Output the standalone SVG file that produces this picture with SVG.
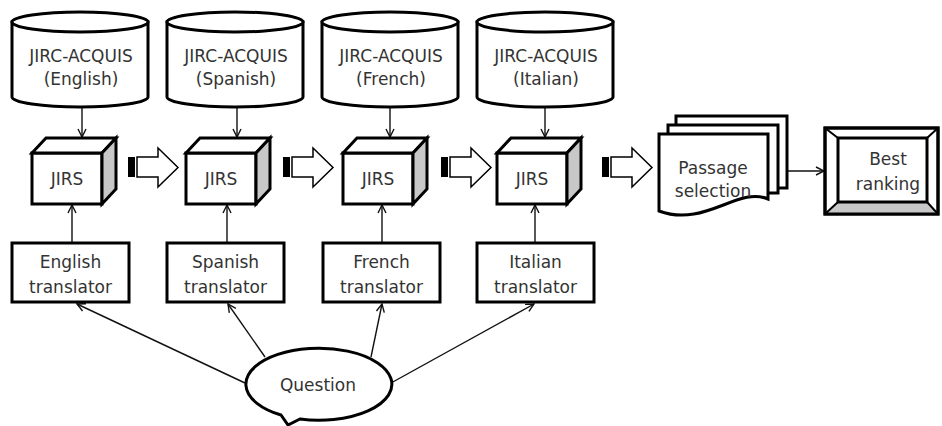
<svg xmlns="http://www.w3.org/2000/svg" width="942" height="426" viewBox="0 0 942 426">
<defs>
<marker id="v" viewBox="0 0 10 10" refX="9" refY="5" markerWidth="10" markerHeight="10" markerUnits="userSpaceOnUse" orient="auto"><path d="M1,1 L9,5 L1,9" fill="none" stroke="#111" stroke-width="1.4"/></marker>
<g id="cyl"><path class="s" d="M12,22 V97 A68,10 0 0 0 148,97 V22 Z"/><ellipse class="s" cx="80" cy="22" rx="68" ry="10"/></g>
<g id="cube"><rect class="s" x="32" y="153" width="70" height="51"/><polygon class="s" points="32,153 46,138 116,138 102,153"/><polygon class="g" points="102,153 116,138 116,189 102,204"/></g>
<g id="barrow"><rect x="128" y="157" width="7" height="20" fill="#000"/><polygon class="ba" points="137,157 158,157 158,148 178,167.5 158,187 158,177 137,177"/></g>
</defs>
<style>
.s{fill:#fff;stroke:#000;stroke-width:3}
.g{fill:#c8c8c8;stroke:#000;stroke-width:3;stroke-linejoin:miter}
.t{font-family:"DejaVu Sans",sans-serif;font-size:17px;fill:#333;text-anchor:middle}
.c{fill:none;stroke:#111;stroke-width:1.4;marker-end:url(#v)}
.ba{fill:#fff;stroke:#000;stroke-width:1.5}
</style>
<rect width="942" height="426" fill="#fff"/>

<g id="connectors">
<line class="c" x1="82" y1="107" x2="82" y2="137"/>
<line class="c" x1="237" y1="107" x2="237" y2="137"/>
<line class="c" x1="390" y1="107" x2="390" y2="137"/>
<line class="c" x1="545" y1="107" x2="545" y2="137"/>
<line class="c" x1="72" y1="243" x2="72" y2="205"/>
<line class="c" x1="227" y1="243" x2="227" y2="205"/>
<line class="c" x1="382" y1="243" x2="382" y2="205"/>
<line class="c" x1="535" y1="243" x2="535" y2="205"/>
<line class="c" x1="245" y1="383" x2="77" y2="304"/>
<line class="c" x1="265" y1="357" x2="228" y2="304"/>
<line class="c" x1="371" y1="357" x2="382" y2="304"/>
<line class="c" x1="391" y1="383" x2="534" y2="304"/>
<line class="c" x1="787" y1="171" x2="824" y2="171"/>
<use href="#barrow"/>
<use href="#barrow" x="155"/>
<use href="#barrow" x="313"/>
<use href="#barrow" x="474"/>
</g>

<g id="corpus-en"><use href="#cyl"/><text class="t" x="81" y="62">JIRC-ACQUIS</text><text class="t" x="81" y="85">(English)</text></g>
<g id="corpus-es" transform="translate(155,0)"><use href="#cyl"/><text class="t" x="81" y="62">JIRC-ACQUIS</text><text class="t" x="81" y="85">(Spanish)</text></g>
<g id="corpus-fr" transform="translate(310,0)"><use href="#cyl"/><text class="t" x="81" y="62">JIRC-ACQUIS</text><text class="t" x="81" y="85">(French)</text></g>
<g id="corpus-it" transform="translate(465,0)"><use href="#cyl"/><text class="t" x="81" y="62">JIRC-ACQUIS</text><text class="t" x="81" y="85">(Italian)</text></g>

<g id="jirs-en"><use href="#cube"/><text class="t" x="67" y="185">JIRS</text></g>
<g id="jirs-es" transform="translate(154,0)"><use href="#cube"/><text class="t" x="67" y="185">JIRS</text></g>
<g id="jirs-fr" transform="translate(311,0)"><use href="#cube"/><text class="t" x="67" y="185">JIRS</text></g>
<g id="jirs-it" transform="translate(465,0)"><use href="#cube"/><text class="t" x="67" y="185">JIRS</text></g>

<g id="tr-en"><rect class="s" x="12" y="243" width="117" height="59"/><text class="t" x="70.5" y="268">English</text><text class="t" x="70.5" y="293">translator</text></g>
<g id="tr-es" transform="translate(155,0)"><rect class="s" x="12" y="243" width="117" height="59"/><text class="t" x="70.5" y="268">Spanish</text><text class="t" x="70.5" y="293">translator</text></g>
<g id="tr-fr" transform="translate(311,0)"><rect class="s" x="12" y="243" width="117" height="59"/><text class="t" x="70.5" y="268">French</text><text class="t" x="70.5" y="293">translator</text></g>
<g id="tr-it" transform="translate(465,0)"><rect class="s" x="12" y="243" width="117" height="59"/><text class="t" x="70.5" y="268">Italian</text><text class="t" x="70.5" y="293">translator</text></g>

<g id="passage">
<rect class="s" x="676" y="116" width="111" height="72"/>
<rect class="s" x="668" y="125" width="110" height="68"/>
<path class="s" d="M659,134 H768 V199 C738,186 705,228 659,211 Z"/>
<text class="t" x="713" y="174">Passage</text>
<text class="t" x="713" y="197">selection</text>
</g>

<g id="best">
<rect class="s" x="825" y="128" width="113" height="86"/>
<polygon points="825,214 838,202 927,202 938,214" fill="#c8c8c8"/>
<path d="M825,128 L838,138 M938,128 L927,138 M825,214 L838,202 M938,214 L927,202" stroke="#000" stroke-width="2"/>
<rect x="825" y="128" width="113" height="86" fill="none" stroke="#000" stroke-width="3"/>
<rect class="s" x="838" y="138" width="89" height="64"/>
<text class="t" x="888" y="165">Best</text>
<text class="t" x="888" y="190">ranking</text>
</g>

<g id="question">
<path class="s" d="M281,415 A73,36 0 1 1 300,419 L288,425 Z"/>
<text class="t" x="318" y="391">Question</text>
</g>
</svg>
